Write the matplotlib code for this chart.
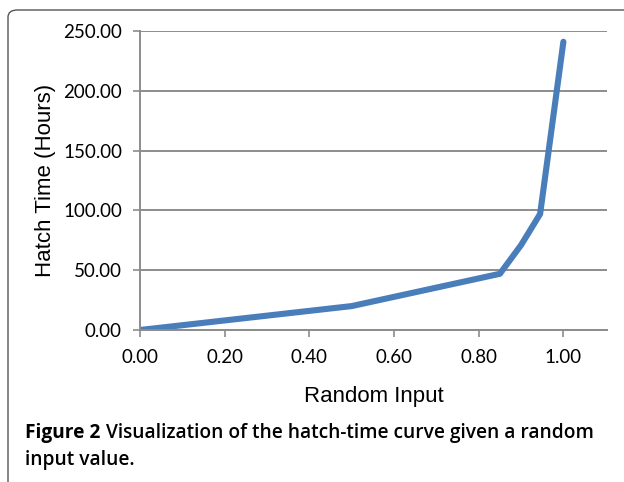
import matplotlib.pyplot as plt
from matplotlib.patches import FancyBboxPatch

# values
random_input = [0.00, 0.50, 0.85, 0.90, 0.945, 1.00]
hatch_hours = [0.0, 20.0, 47.0, 71.0, 97.0, 241.0]
x_ticks = [0.0, 0.2, 0.4, 0.6, 0.8, 1.0]
y_ticks = [0, 50, 100, 150, 200, 250]

W, H = 624, 482
fig = plt.figure(figsize=(W / 100, H / 100), dpi=100)

# rounded frame around the figure panel
frame = FancyBboxPatch((8 / W, -30 / H), 660 / W, 502 / H,
                       boxstyle="round,pad=0,rounding_size=0.015",
                       transform=fig.transFigure, fill=False,
                       edgecolor='#555555', linewidth=1.0)
fig.patches.append(frame)

ax = fig.add_axes([140 / W, 1 - 330 / H, 467 / W, 299 / H])
ax.plot(random_input, hatch_hours, color='#4a7ebb', linewidth=4.4,
        solid_joinstyle='round', solid_capstyle='round')

ax.set_xlim(0, 1.103)
ax.set_ylim(0, 250)
ax.set_xticks(x_ticks)
ax.set_yticks(y_ticks)
ax.set_xticklabels(['%.2f' % v for v in x_ticks])
ax.set_yticklabels(['%.2f' % v for v in y_ticks])

for lab in ax.get_xticklabels() + ax.get_yticklabels():
    lab.set_fontfamily('Lato')
    lab.set_fontsize(13.5)

ax.grid(axis='y', color='#8c8c8c', linewidth=1.4)
ax.set_axisbelow(True)
for side in ['top', 'right']:
    ax.spines[side].set_visible(False)
for side in ['left', 'bottom']:
    ax.spines[side].set_color('#8c8c8c')
    ax.spines[side].set_linewidth(1.4)
ax.tick_params(direction='out', length=5, width=1.2, color='#8c8c8c')
ax.tick_params(axis='y', pad=8)
ax.tick_params(axis='x', pad=9)

font = 'Liberation Sans'
ax.set_xlabel('Random Input', fontfamily=font, fontsize=16, labelpad=14)
ax.set_ylabel('Hatch Time (Hours)', fontfamily=font, fontsize=16, labelpad=5)

# caption under the chart
cap_kw = dict(fontfamily='Open Sans', fontsize=13.8, transform=fig.transFigure,
              va='center')
head = fig.text(25 / W, 1 - 433 / H, 'Figure 2', fontweight='bold', **cap_kw)
fig.canvas.draw()
bb = head.get_window_extent()
fig.text((bb.x1 + 6) / W, 1 - 433 / H,
         'Visualization of the hatch-time curve given a random',
         fontweight='semibold', **cap_kw)
fig.text(25 / W, 1 - 460 / H, 'input value.', fontweight='semibold', **cap_kw)

fig.savefig('out.png', dpi=100)
